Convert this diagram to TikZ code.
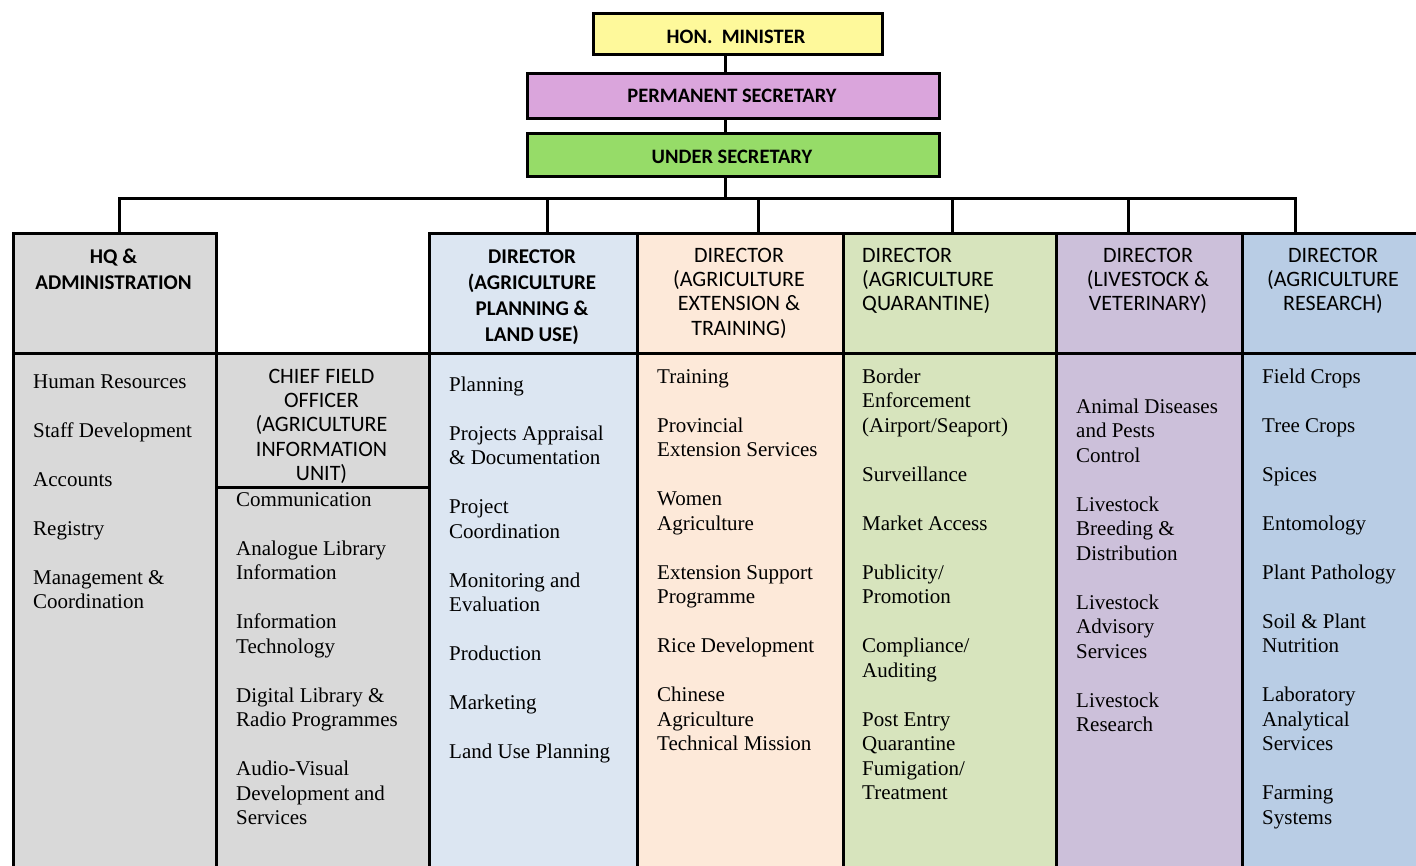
\documentclass[tikz,border=0pt]{standalone}
\usepackage{fontspec}
\setmainfont{Liberation Serif}
\newfontfamily\hdrfont{Carlito}

\definecolor{minfill}{HTML}{FEF99B}
\definecolor{psfill}{HTML}{DAA5DC}
\definecolor{usfill}{HTML}{96DC68}
\definecolor{grayfill}{HTML}{D9D9D9}
\definecolor{planfill}{HTML}{DCE6F2}
\definecolor{extfill}{HTML}{FDE9D9}
\definecolor{quarfill}{HTML}{D7E4BD}
\definecolor{livefill}{HTML}{CCC0DA}
\definecolor{resfill}{HTML}{B9CDE5}

\begin{document}
\begin{tikzpicture}[x=1pt,y=-1pt,
  box/.style={draw=black, line width=2.5pt, rectangle, inner sep=0pt, anchor=north west},
  link/.style={line width=3pt, line join=miter},
  toptext/.style={font=\hdrfont\bfseries\fontsize{20.5}{24}\selectfont, inner sep=0pt, anchor=base},
  hbold/.style={font=\hdrfont\bfseries\fontsize{21}{26}\selectfont, align=center, inner sep=0pt, anchor=north},
  hreg/.style={font=\hdrfont\fontsize{22}{24.3}\selectfont, align=center, inner sep=0pt, anchor=north},
  items/.style={font=\fontsize{21}{24.5}\selectfont, align=left, inner sep=0pt, anchor=north west},
]
\useasboundingbox (0,0) rectangle (1416,865);
\clip (0,0) rectangle (1416,865);

% bus and trunk points
\coordinate (trunk) at (725,198);
\coordinate (b1) at (119,198);
\coordinate (b2) at (547,198);
\coordinate (b3) at (758,198);
\coordinate (b4) at (952,198);
\coordinate (b5) at (1128,198);
\coordinate (b6) at (1295,198);

% top of the hierarchy
\node[box, fill=minfill, minimum width=289pt, minimum height=41pt] (min) at (592,12) {};
\node[box, fill=psfill,  minimum width=412pt, minimum height=45pt] (ps)  at (526,72) {};
\node[box, fill=usfill,  minimum width=412pt, minimum height=43pt] (us)  at (526,132) {};

% header boxes
\node[box, fill=grayfill, minimum width=203pt, minimum height=120pt] (hqH) at (12,232) {};
\node[box, fill=planfill, minimum width=208pt, minimum height=120pt] (plH) at (428,232) {};
\node[box, fill=extfill,  minimum width=206pt, minimum height=120pt] (exH) at (636,232) {};
\node[box, fill=quarfill, minimum width=213pt, minimum height=120pt] (quH) at (842,232) {};
\node[box, fill=livefill, minimum width=186pt, minimum height=120pt] (liH) at (1055,232) {};
\node[box, fill=resfill,  minimum width=200pt, minimum height=120pt] (reH) at (1241,232) {};

% body boxes
\node[box, fill=grayfill, minimum width=203pt, minimum height=540pt] (hqB) at (12,352) {};
\node[box, fill=grayfill, minimum width=213pt, minimum height=134pt] (chH) at (215,352) {};
\node[box, fill=grayfill, minimum width=213pt, minimum height=420pt] (chB) at (215,486) {};
\node[box, fill=planfill, minimum width=208pt, minimum height=540pt] (plB) at (428,352) {};
\node[box, fill=extfill,  minimum width=206pt, minimum height=540pt] (exB) at (636,352) {};
\node[box, fill=quarfill, minimum width=213pt, minimum height=540pt] (quB) at (842,352) {};
\node[box, fill=livefill, minimum width=186pt, minimum height=540pt] (liB) at (1055,352) {};
\node[box, fill=resfill,  minimum width=200pt, minimum height=540pt] (reB) at (1241,352) {};

% connectors
\draw[link] (min.south -| trunk) -- (ps.north -| trunk);
\draw[link] (ps.south -| trunk) -- (us.north -| trunk);
\draw[link] (us.south -| trunk) -- (trunk);
\draw[link] (b1 |- hqH.north) -- (b1) -- (b6) -- (b6 |- reH.north);
\draw[link] (b2) -- (b2 |- plH.north);
\draw[link] (b3) -- (b3 |- exH.north);
\draw[link] (b4) -- (b4 |- quH.north);
\draw[link] (b5) -- (b5 |- liH.north);

% titles of the top boxes
\node[toptext] (minT) at (736,43) {HON.\ \ MINISTER};
\node[toptext] (psT)  at (732,102) {PERMANENT SECRETARY};
\node[toptext] (usT)  at (732,163) {UNDER SECRETARY};

% column headings
\node[hbold] (hqT) at (113.5,244.8) {\strut HQ \&\\ADMINISTRATION};
\node[hbold] (plT) at (532,244.8) {\strut DIRECTOR\\(AGRICULTURE\\PLANNING \&\\LAND USE)};
\node[hreg]  (exT) at (739,245) {\strut DIRECTOR\\(AGRICULTURE\\EXTENSION \&\\TRAINING)};
\node[hreg, anchor=north west, align=left] (quT) at (862,245) {\strut DIRECTOR\\(AGRICULTURE\\QUARANTINE)};
\node[hreg]  (liT) at (1148,245) {\strut DIRECTOR\\(LIVESTOCK \&\\VETERINARY)};
\node[hreg]  (reT) at (1333,245) {\strut DIRECTOR\\(AGRICULTURE\\RESEARCH)};
\node[hreg]  (chT) at (321.5,366) {\strut CHIEF FIELD\\OFFICER\\(AGRICULTURE\\INFORMATION\\UNIT)};

% units under each heading
\node[items] (hqL) at (33,370.85) {\strut Human Resources\\[24.5pt]Staff Development\\[24.5pt]Accounts\\[24.5pt]Registry\\[24.5pt]Management \&\\Coordination};
\node[items] (chL) at (236,488.85) {\strut Communication\\[24.5pt]Analogue Library\\Information\\[24.5pt]Information\\Technology\\[24.5pt]Digital Library \&\\Radio Programmes\\[24.5pt]Audio-Visual\\Development and\\Services};
\node[items] (plL) at (449,373.85) {\strut Planning\\[24.5pt]Projects Appraisal\\\& Documentation\\[24.5pt]Project\\Coordination\\[24.5pt]Monitoring and\\Evaluation\\[24.5pt]Production\\[24.5pt]Marketing\\[24.5pt]Land Use Planning};
\node[items] (exL) at (657,365.85) {\strut Training\\[24.5pt]Provincial\\Extension Services\\[24.5pt]Women\\Agriculture\\[24.5pt]Extension Support\\Programme\\[24.5pt]Rice Development\\[24.5pt]Chinese\\Agriculture\\Technical Mission};
\node[items] (quL) at (862,365.85) {\strut Border\\Enforcement\\(Airport/Seaport)\\[24.5pt]Surveillance\\[24.5pt]Market Access\\[24.5pt]Publicity/\\Promotion\\[24.5pt]Compliance/\\Auditing\\[24.5pt]Post Entry\\Quarantine\\Fumigation/\\Treatment};
\node[items] (liL) at (1076,395.85) {\strut Animal Diseases\\and Pests\\Control\\[24.5pt]Livestock\\Breeding \&\\Distribution\\[24.5pt]Livestock\\Advisory\\Services\\[24.5pt]Livestock\\Research};
\node[items] (reL) at (1262,365.85) {\strut Field Crops\\[24.5pt]Tree Crops\\[24.5pt]Spices\\[24.5pt]Entomology\\[24.5pt]Plant Pathology\\[24.5pt]Soil \& Plant\\Nutrition\\[24.5pt]Laboratory\\Analytical\\Services\\[24.5pt]Farming\\Systems};
\end{tikzpicture}
\end{document}
